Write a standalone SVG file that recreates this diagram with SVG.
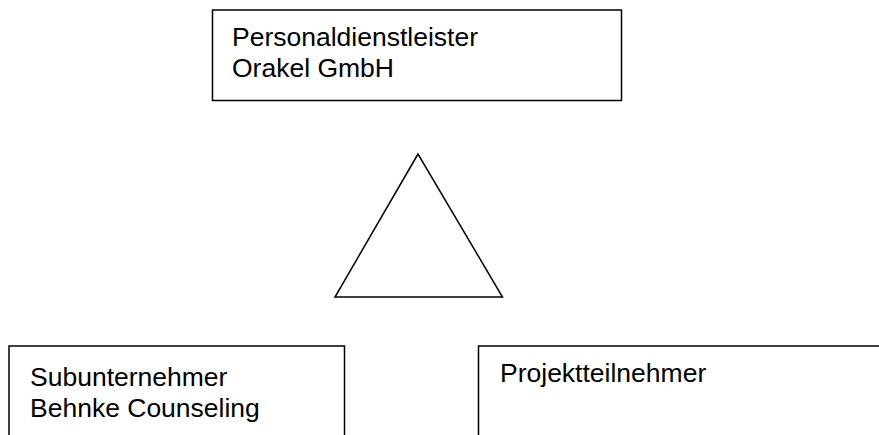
<svg xmlns="http://www.w3.org/2000/svg" width="879" height="435" viewBox="0 0 879 435">
  <style>
    .box { fill: #ffffff; stroke: #000000; stroke-width: 1.5; }
    .tri { fill: none; stroke: #000000; stroke-width: 1.5; stroke-linejoin: miter; }
    .lbl { font-family: "Liberation Sans", Arial, sans-serif; font-size: 26.5px; fill: #000000; }
  </style>
  <rect width="879" height="435" fill="#ffffff"/>
  <g id="node-personaldienstleister">
    <rect class="box" x="212.5" y="10" width="409" height="90.5"/>
    <text class="lbl" x="232" y="45.5">Personaldienstleister</text>
    <text class="lbl" x="232" y="77">Orakel GmbH</text>
  </g>
  <g id="node-triangle">
    <polygon class="tri" points="418,154 335,297 502.5,297"/>
  </g>
  <g id="node-subunternehmer">
    <rect class="box" x="9" y="346" width="335.5" height="120"/>
    <text class="lbl" x="30" y="386">Subunternehmer</text>
    <text class="lbl" x="30" y="416.5">Behnke Counseling</text>
  </g>
  <g id="node-projektteilnehmer">
    <rect class="box" x="478.5" y="346" width="440" height="120"/>
    <text class="lbl" x="500" y="381.5">Projektteilnehmer</text>
  </g>
  <g id="connectors"></g>
</svg>
